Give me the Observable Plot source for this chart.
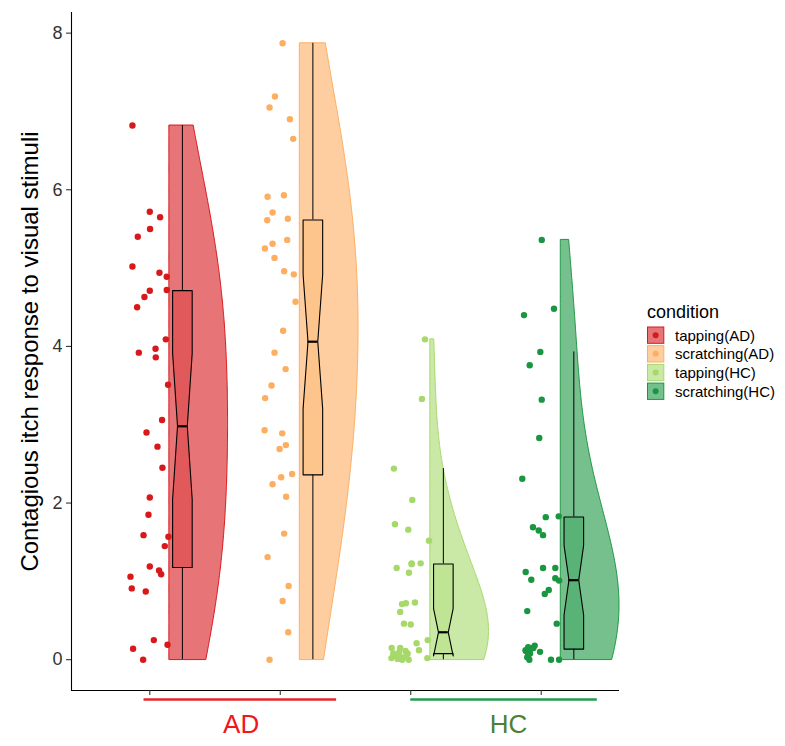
<!DOCTYPE html>
<html><head><meta charset="utf-8">
<script src="https://cdn.jsdelivr.net/npm/d3@7"></script>
<script src="https://cdn.jsdelivr.net/npm/@observablehq/plot@0.6"></script>
<style>
body{margin:0;background:#fff;font-family:"Liberation Sans",Arial,Helvetica,sans-serif;}
#wrap{position:relative;width:785px;height:746px;}
#wrap svg{display:block;}
#legend{position:absolute;left:0;top:0;pointer-events:none;}
</style></head><body><div id="wrap"></div>
<script>
// ---- data ----
const conditions = ["tapping(AD)", "scratching(AD)", "tapping(HC)", "scratching(HC)"];
const conditionPos = [1, 2, 3, 4];
const palette = ["#d7191c", "#fdae61", "#a6d96a", "#1a9641"];

const tappingAD = [6.82,5.72,5.65,5.50,5.40,5.02,4.94,4.89,4.72,4.71,4.63,4.50,4.09,3.97,3.92,3.86,3.51,3.06,2.90,2.72,2.45,2.07,1.85,1.59,1.57,1.45,1.19,1.14,1.09,1.06,0.91,0.87,0.25,0.19,0.14,0.00];
const tappingADJitter = [-0.133,0,0.079,0.002,-0.092,-0.133,0.074,0.130,0.130,0,-0.041,-0.097,0.123,0.044,-0.084,0.046,0.140,0.094,-0.025,0.059,0.097,0,-0.010,-0.048,0.143,0.115,0,0.071,0.087,-0.148,-0.138,-0.031,0.031,0.136,-0.128,-0.051];

const scratchingAD = [7.87,7.19,7.05,6.90,6.65,5.91,5.93,5.71,5.61,5.63,5.36,5.31,5.25,5.13,4.96,4.92,4.57,4.20,3.92,3.71,3.50,3.34,2.93,2.89,2.69,2.74,2.37,2.33,2.24,2.08,1.61,1.31,0.94,0.75,0.35,0.00];
const scratchingADJitter = [0.018,-0.041,-0.082,0.074,0.099,-0.097,0.028,-0.059,-0.100,0.058,0.053,-0.059,-0.118,-0.044,0.030,0.104,0.117,0.022,-0.044,0.041,-0.067,-0.116,-0.120,0.015,-0.005,0.043,0.091,0.007,-0.059,0.045,0.030,-0.097,0.064,0.018,0.061,-0.082];

const tappingHC = [4.09,3.33,2.44,2.04,1.73,1.66,1.52,1.23,1.23,1.17,1.11,0.73,0.72,0.71,0.61,0.46,0.45,0.25,0.21,0.12,0.15,0.15,0.08,0.08,0.04,0.00,0.00,0.02,0.02,0.01,0.03,0.06,0.07,0.09,0.11,1.22];
const tappingHCJitter = [0.109,0.086,-0.129,0.012,-0.121,-0.019,0.140,0.076,0.007,-0.108,-0.014,0.032,-0.037,-0.067,-0.081,-0.052,0,0.130,0.045,0.063,-0.081,-0.146,-0.024,-0.134,-0.108,-0.065,-0.016,0.127,-0.148,-0.10,-0.06,-0.12,-0.03,-0.09,-0.04,0.007];

const scratchingHC = [5.36,4.48,4.40,3.93,3.76,3.32,2.83,2.31,1.82,1.83,1.69,1.65,1.59,1.12,1.17,1.17,1.02,1.04,1.01,0.89,0.84,0.62,0.46,0.18,0.10,0.11,0.08,0.03,0.00,0.00,0.00,0.05,0.12,0.14,0.15,0.16];
const scratchingHCJitter = [0.004,0.098,-0.132,-0.007,-0.088,0.004,-0.015,-0.145,0.035,0.134,-0.063,-0.019,0.014,-0.119,0.014,0.108,-0.076,0.108,0.137,0.058,0.027,-0.107,0.119,-0.050,-0.009,-0.117,-0.086,-0.107,-0.091,0.075,0.137,-0.101,-0.12,-0.08,-0.06,-0.10];

const yTicks = [0, 2, 4, 6, 8];
const xTicks = [1, 2, 3, 4];
const yTitle = "Contagious itch response to visual stimuli";
const legendTitle = "condition";
const groupLabels = ["AD", "HC"];
const groupStart = [0.956, 3.0];
const groupEnd = [2.432, 4.43];
const groupLabelX = [1.70, 3.75];

// ---- styles ----
const groupTextColors = ["#f2151b", "#4f7f33"];
const groupLineColors = ["#e8242a", "#1c9e4a"];
const densityAdjust = 2;

// ---- derived ----
const valueArrays = [tappingAD, scratchingAD, tappingHC, scratchingHC];
const jitterArrays = [tappingADJitter, scratchingADJitter, tappingHCJitter, scratchingHCJitter];
const groups = conditions.map((c, i) => ({condition: c, pos: conditionPos[i], values: valueArrays[i], jitter: jitterArrays[i], color: palette[i]}));

const points = groups.flatMap(g => g.values.map((v, j) => ({condition: g.condition, x: g.pos + g.jitter[j], y: v})));

function nrd0(x) {
  const sd = d3.deviation(x);
  const s = [...x].sort(d3.ascending);
  const iqr = d3.quantileSorted(s, 0.75) - d3.quantileSorted(s, 0.25);
  let lo = Math.min(sd, iqr / 1.34);
  if (!(lo > 0)) lo = sd || 1;
  return 0.9 * lo * Math.pow(x.length, -0.2);
}

const violinNudge = 0.15, violinWidth = 0.45;
const violins = groups.flatMap(g => {
  const v = g.values, bw = nrd0(v) * densityAdjust;
  const lo = d3.min(v), hi = d3.max(v), N = 256;
  const ys = d3.range(N).map(k => lo + (hi - lo) * k / (N - 1));
  const dens = ys.map(y => d3.sum(v, xi => Math.exp(-0.5 * ((y - xi) / bw) ** 2)));
  const m = d3.max(dens);
  return ys.map((y, k) => ({condition: g.condition, y, x1: g.pos + violinNudge, x2: g.pos + violinNudge + violinWidth * dens[k] / m}));
});

const boxNudge = 0.25, boxHalf = 0.075, notchIndent = 0.0375;
const boxes = groups.map(g => {
  const s = [...g.values].sort(d3.ascending);
  const q1 = d3.quantileSorted(s, 0.25), med = d3.quantileSorted(s, 0.5), q3 = d3.quantileSorted(s, 0.75);
  const iqr = q3 - q1;
  const upper = d3.max(s.filter(v => v <= q3 + 1.5 * iqr));
  const lower = d3.min(s.filter(v => v >= q1 - 1.5 * iqr));
  const nh = 1.58 * iqr / Math.sqrt(s.length);
  const c = g.pos + boxNudge, xmin = c - boxHalf, xmax = c + boxHalf;
  const poly = [[xmin, q3], [xmin, med + nh], [xmin + notchIndent, med], [xmin, med - nh], [xmin, q1],
                [xmax, q1], [xmax, med - nh], [xmax - notchIndent, med], [xmax, med + nh], [xmax, q3], [xmin, q3]]
               .map(([x, y]) => ({x, y}));
  return {condition: g.condition, color: g.color, c, q1, med, q3, upper, lower, poly, mx1: xmin + notchIndent, mx2: xmax - notchIndent};
});

const yMax = d3.max(valueArrays.flat()), yMin = d3.min(valueArrays.flat());
const yPad = (yMax - yMin) * 0.05;
const yLo = yMin - yPad, yHi = yMax + yPad;
const xLo = 0.4, xHi = 4.6;

const groupData = groupLabels.map((l, i) => ({label: l, start: groupStart[i], end: groupEnd[i], lx: groupLabelX[i]}));

const marks = [
  Plot.areaX(violins, {y: "y", x1: "x1", x2: "x2", z: "condition", fill: "condition", fillOpacity: 0.6, stroke: "condition", strokeWidth: 1, curve: "linear"}),
  Plot.dot(points, {x: "x", y: "y", fill: "condition", r: 3.2, stroke: null}),
  Plot.ruleX(boxes, {x: "c", y1: "q3", y2: "upper", stroke: "black", strokeWidth: 1}),
  Plot.ruleX(boxes, {x: "c", y1: "q1", y2: "lower", stroke: "black", strokeWidth: 1}),
  ...boxes.map(b => Plot.line(b.poly, {x: "x", y: "y", fill: b.color, fillOpacity: 0.3, stroke: "black", strokeWidth: 1.1, curve: "linear"})),
  Plot.ruleY(boxes, {y: "med", x1: "mx1", x2: "mx2", stroke: "black", strokeWidth: 2.2}),
  Plot.ruleX([xLo], {stroke: "black", strokeWidth: 1.1}),
  Plot.ruleY([yLo], {stroke: "black", strokeWidth: 1.1}),
  Plot.axisY({ticks: yTicks, tickSize: 5, tickPadding: 4, fontSize: 18, label: null, color: "#333", strokeWidth: 1.1}),
  Plot.axisX({ticks: xTicks, tickSize: 5, tickFormat: () => "", label: null, color: "#333", strokeWidth: 1.1}),
  Plot.text([yTitle], {text: d => d, frameAnchor: "left", textAnchor: "middle", lineAnchor: "middle", dx: -41, rotate: -90, fontSize: 24, fill: "black"}),
  ...groupData.map((g, i) => Plot.ruleY([g], {y: () => yLo, x1: "start", x2: "end", dy: 9, stroke: groupLineColors[i], strokeWidth: 2.6})),
  ...groupData.map((g, i) => Plot.text([g], {x: "lx", frameAnchor: "bottom", textAnchor: "middle", lineAnchor: "middle", dy: 34, text: "label", fontSize: 26, fill: groupTextColors[i]}))
];

const chart = Plot.plot({
  width: 785, height: 746,
  marginLeft: 71, marginRight: 166, marginTop: 12, marginBottom: 56,
  style: {fontFamily: "'Liberation Sans', Arial, Helvetica, sans-serif", background: "#fff", overflow: "visible"},
  x: {domain: [xLo, xHi]},
  y: {domain: [yLo, yHi]},
  color: {domain: conditions, range: palette},
  marks
});
const wrap = document.getElementById("wrap");
wrap.appendChild(chart);

// ---- legend ----
const leg = d3.select(wrap).append("svg").attr("id", "legend").attr("width", 785).attr("height", 746)
  .style("font-family", "'Liberation Sans', Arial, Helvetica, sans-serif");
leg.append("text").attr("x", 647).attr("y", 318).attr("font-size", 18).attr("fill", "black").text(legendTitle);
const keyTop = 327, keyStep = 18.7, keySize = 17.3;
conditions.forEach((c, i) => {
  const y0 = keyTop + i * keyStep;
  leg.append("rect").attr("x", 647.5).attr("y", y0).attr("width", keySize - 1).attr("height", keySize - 1)
    .attr("fill", palette[i]).attr("fill-opacity", 0.6).attr("stroke", palette[i]).attr("stroke-width", 1);
  leg.append("circle").attr("cx", 647 + keySize / 2).attr("cy", y0 + keySize / 2 - 0.5).attr("r", 3).attr("fill", palette[i]);
  leg.append("text").attr("x", 675).attr("y", y0 + keySize / 2 + 5).attr("font-size", 15).attr("fill", "black").text(c);
});
</script></body></html>
